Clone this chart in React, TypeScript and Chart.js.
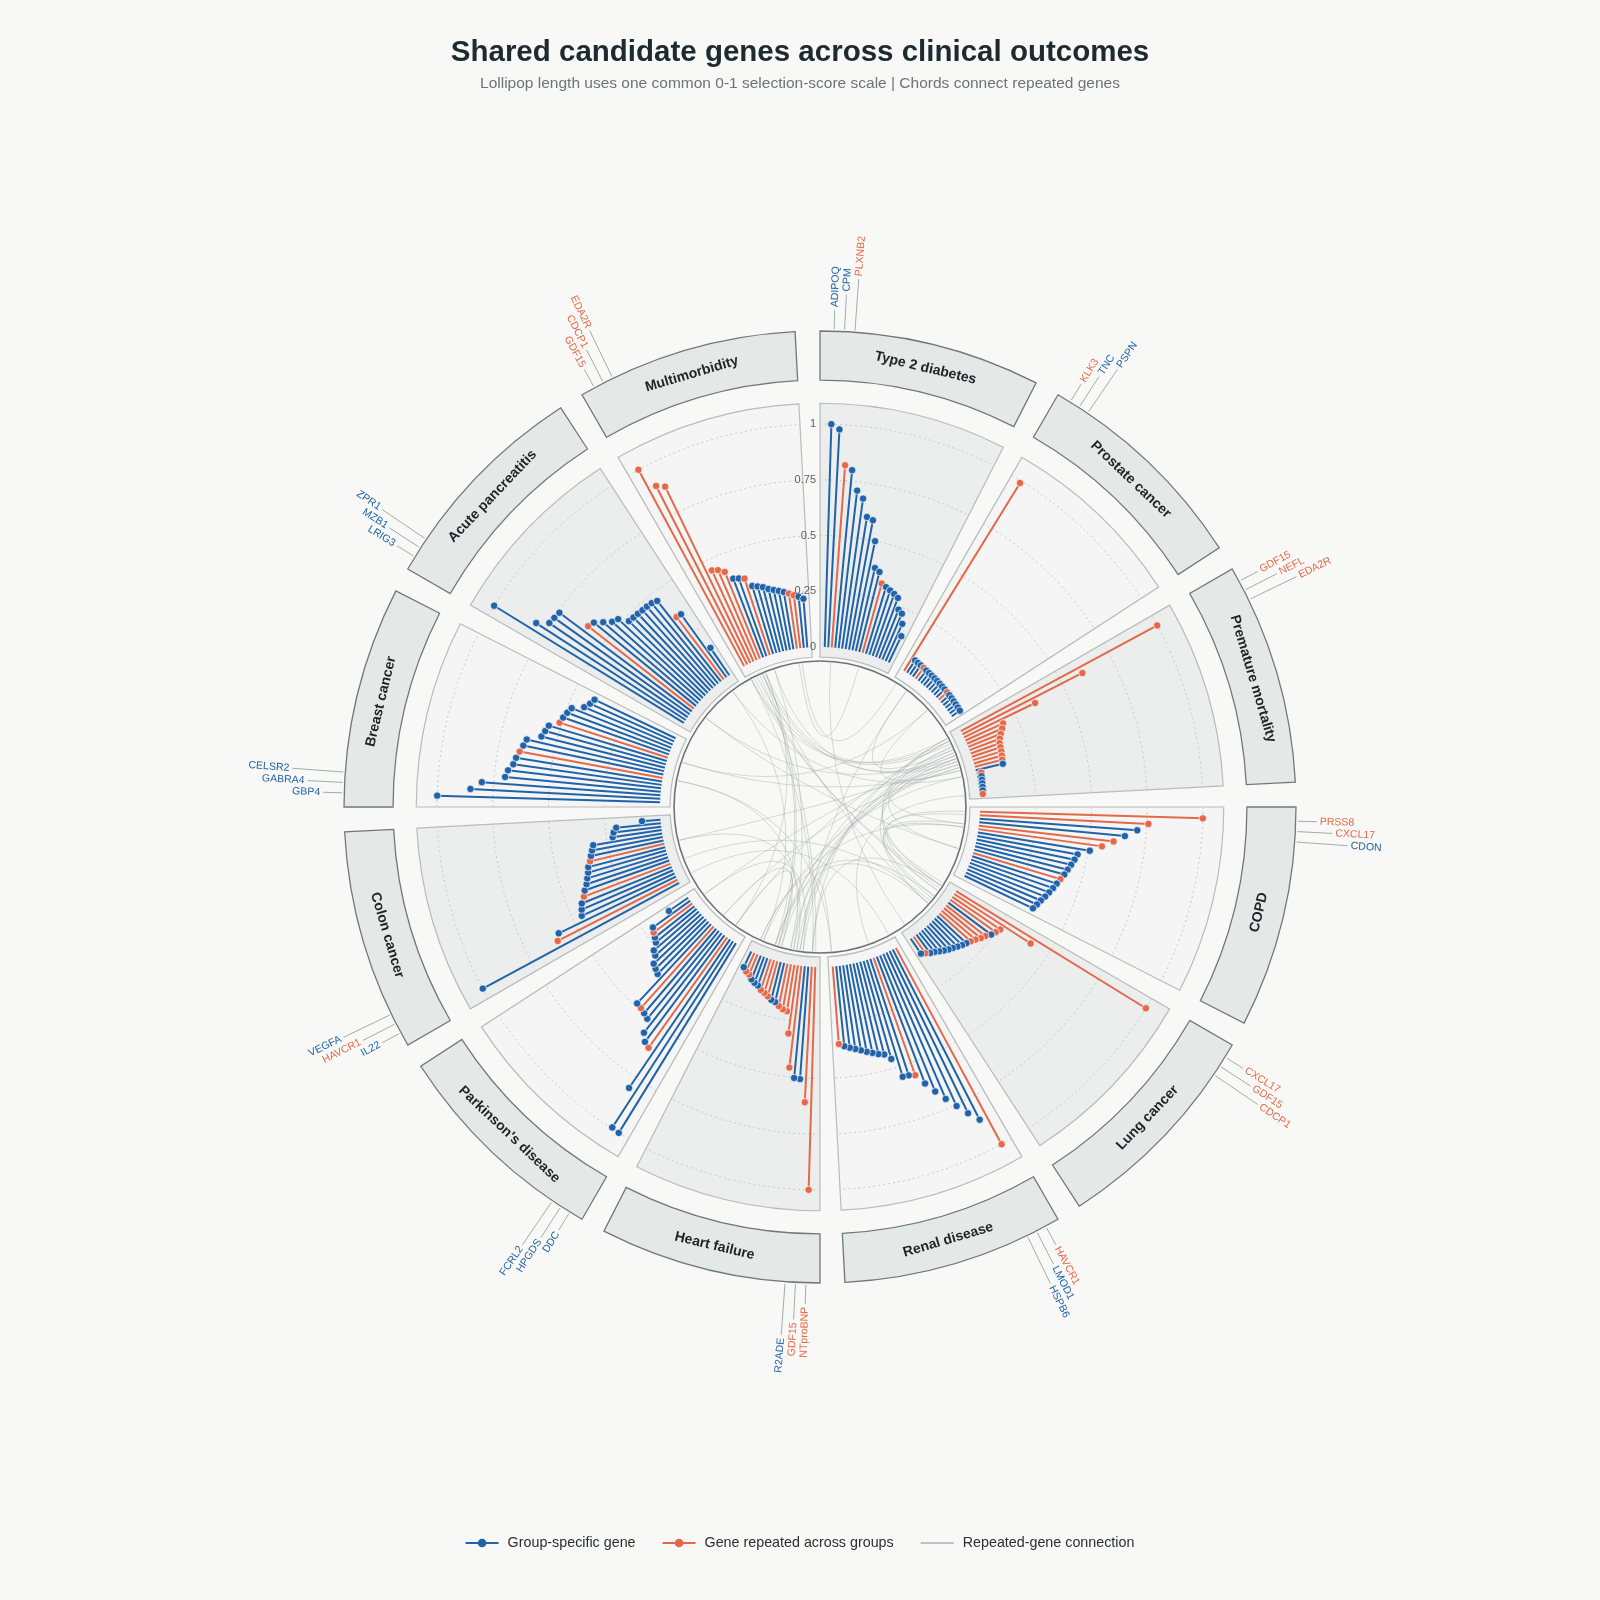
import React, { useEffect, useRef } from "react";
import { Chart, registerables } from "chart.js";

Chart.register(...registerables);

// ---------------- DATA ----------------
const TITLE = "Shared candidate genes across clinical outcomes";
const SUBTITLE = "Lollipop length uses one common 0-1 selection-score scale | Chords connect repeated genes";

const GROUPS = [
  "Type 2 diabetes",
  "Prostate cancer",
  "Premature mortality",
  "COPD",
  "Lung cancer",
  "Renal disease",
  "Heart failure",
  "Parkinson's disease",
  "Colon cancer",
  "Breast cancer",
  "Acute pancreatitis",
  "Multimorbidity",
];

const T2D_VALUES = [1.0, 0.978, 0.819, 0.8, 0.711, 0.679, 0.6, 0.59, 0.5, 0.382, 0.37, 0.322, 0.312, 0.303, 0.294, 0.283, 0.235, 0.224, 0.183, 0.131];
const T2D_GENES = ["ADIPOQ", "CPM", "PLXNB2", "", "", "", "", "", "", "", "", "LEP", "", "", "", "", "", "", "", ""];

const PROSTATE_VALUES = [0.99, 0.066, 0.064, 0.062, 0.06, 0.058, 0.057, 0.056, 0.055, 0.054, 0.053, 0.052, 0.051, 0.05, 0.049, 0.048, 0.047, 0.046, 0.045, 0.044];
const PROSTATE_GENES = ["KLK3", "TNC", "PSPN", "", "TNFRSF10B", "", "", "", "", "", "", "", "", "IGFBP4", "", "", "", "", "", ""];

const MORTALITY_VALUES = [1.0, 0.604, 0.354, 0.185, 0.172, 0.157, 0.145, 0.137, 0.135, 0.133, 0.13, 0.127, 0.125, 0.022, 0.02, 0.019, 0.018, 0.017, 0.016, 0.015];
const MORTALITY_GENES = ["GDF15", "NEFL", "EDA2R", "WFDC2", "TNFRSF10B", "ADM", "CHI3L1", "TIMP1", "PLAUR", "LTBP2", "SPON1", "IGFBP4", "", "FGF21", "", "", "", "", "", "REN"];

const COPD_VALUES = [1.0, 0.757, 0.709, 0.656, 0.608, 0.559, 0.508, 0.457, 0.448, 0.438, 0.428, 0.419, 0.408, 0.398, 0.389, 0.379, 0.369, 0.358, 0.349, 0.34];
const COPD_GENES = ["PRSS8", "CXCL17", "CDON", "", "WFDC2", "MMP12", "", "", "", "", "", "", "CHI3L1", "", "", "", "", "", "", ""];

const LUNG_VALUES = [1.0, 0.408, 0.26, 0.25, 0.24, 0.223, 0.213, 0.199, 0.188, 0.179, 0.171, 0.161, 0.151, 0.143, 0.133, 0.122, 0.111, 0.103, 0.091, 0.081];
const LUNG_GENES = ["CXCL17", "GDF15", "CDCP1", "WFDC2", "", "MMP12", "PRSS8", "CEACAM5", "TIMP1", "", "", "", "", "", "", "", "", "", "PLXNB2", ""];

const RENAL_VALUES = [1.0, 0.857, 0.808, 0.757, 0.708, 0.659, 0.609, 0.559, 0.55, 0.548, 0.457, 0.429, 0.421, 0.41, 0.4, 0.389, 0.379, 0.37, 0.361, 0.349];
const RENAL_GENES = ["HAVCR1", "LMOD1", "HSPB6", "", "", "", "", "REN", "", "", "", "", "", "", "", "", "", "", "", "CST3"];

const HF_VALUES = [1.0, 0.608, 0.506, 0.503, 0.459, 0.308, 0.21, 0.205, 0.194, 0.18, 0.174, 0.163, 0.152, 0.145, 0.13, 0.124, 0.114, 0.098, 0.091, 0.078];
const HF_GENES = ["NTproBNP", "GDF15", "R2ADE", "", "ADM", "TNFRSF10B", "LTBP2", "CST3", "PLAUR", "", "", "SPON1", "NEFL", "TIMP1", "", "", "", "FGF21", "MMP12", ""];

const PARKINSON_VALUES = [1.0, 0.995, 0.806, 0.608, 0.596, 0.566, 0.508, 0.498, 0.49, 0.486, 0.327, 0.317, 0.307, 0.277, 0.267, 0.237, 0.226, 0.217, 0.206, 0.105];
const PARKINSON_GENES = ["DDC", "HPGDS", "FCRL2", "NEFL", "", "", "", "", "SPON1", "", "", "", "", "", "", "", "", "ADM", "", ""];

const COLON_VALUES = [1.0, 0.603, 0.584, 0.457, 0.446, 0.435, 0.415, 0.402, 0.385, 0.374, 0.363, 0.356, 0.342, 0.333, 0.323, 0.314, 0.222, 0.215, 0.201, 0.083];
const COLON_GENES = ["IL22", "HAVCR1", "VEGFA", "", "", "", "CEACAM5", "", "", "", "", "", "LTBP2", "", "", "", "", "", "", ""];

const BREAST_VALUES = [1.0, 0.852, 0.803, 0.701, 0.691, 0.671, 0.663, 0.652, 0.641, 0.632, 0.571, 0.561, 0.552, 0.51, 0.502, 0.492, 0.481, 0.431, 0.413, 0.402];
const BREAST_GENES = ["GBP4", "GABRA4", "CELSR2", "", "", "", "", "CST3", "", "", "", "", "", "IGFBP4", "", "", "", "", "", ""];

const PANCREATITIS_VALUES = [1.0, 0.799, 0.75, 0.745, 0.74, 0.601, 0.591, 0.56, 0.531, 0.519, 0.478, 0.475, 0.473, 0.471, 0.47, 0.468, 0.46, 0.35, 0.348, 0.149];
const PANCREATITIS_GENES = ["LRIG3", "MZB1", "ZPR1", "", "", "CHI3L1", "", "", "", "", "", "", "", "", "", "", "", "FGF21", "", ""];

const MULTI_VALUES = [1.0, 0.899, 0.878, 0.449, 0.439, 0.42, 0.378, 0.37, 0.361, 0.319, 0.31, 0.301, 0.287, 0.278, 0.269, 0.26, 0.25, 0.239, 0.23, 0.219];
const MULTI_GENES = ["GDF15", "CDCP1", "EDA2R", "NTproBNP", "TIMP1", "NEFL", "", "", "PLAUR", "", "", "", "", "", "", "", "LEP", "KLK3", "", ""];

const VALUES = [T2D_VALUES, PROSTATE_VALUES, MORTALITY_VALUES, COPD_VALUES, LUNG_VALUES, RENAL_VALUES, HF_VALUES, PARKINSON_VALUES, COLON_VALUES, BREAST_VALUES, PANCREATITIS_VALUES, MULTI_VALUES];
const GENES = [T2D_GENES, PROSTATE_GENES, MORTALITY_GENES, COPD_GENES, LUNG_GENES, RENAL_GENES, HF_GENES, PARKINSON_GENES, COLON_GENES, BREAST_GENES, PANCREATITIS_GENES, MULTI_GENES];

const RADIAL_TICKS = [0, 0.25, 0.5, 0.75, 1];
const LEGEND_LABELS = ["Group-specific gene", "Gene repeated across groups", "Repeated-gene connection"];
const LABELLED_PER_GROUP = 3;

// ---------------- STYLE / LAYOUT ----------------
const BLUE = "#2163a9";
const ORANGE = "#e4694a";
const CHORD = "rgba(160,167,168,0.4)";
const BG = "#f8f8f6";
const FONT = "'Liberation Sans', Arial, Helvetica, sans-serif";

const SLOTS_PER_GROUP = 24;
const LEAD_SLOTS = 1;
const START_ANGLE = 0.45;
const SECTOR_SPAN = 27;
const R_MIN = -0.71749;
const R_MAX = 2.86996;
// radii in value units
const INNER_V = -0.063;
const PANEL_IN_V = -0.045;
const PANEL_OUT_V = 1.093;
const BOX_IN_V = 1.197;
const BOX_OUT_V = 1.417;
const LABEL_V = 1.525;
const LABEL_STEP_V = 0.072;

const NG = GROUPS.length;
const TOTAL = NG * SLOTS_PER_GROUP;
const SLOT_DEG = 360 / TOTAL;
const GROUP_DEG = 360 / NG;

const geneGroups: Record<string, Set<number>> = {};
GENES.forEach((arr, g) => arr.forEach((n) => {
  if (!n) return;
  (geneGroups[n] = geneGroups[n] || new Set()).add(g);
}));
const isRepeated = (g: number, i: number) => {
  const n = GENES[g][i];
  return !!n && geneGroups[n].size > 1;
};
const slotOf = (g: number, i: number) => g * SLOTS_PER_GROUP + LEAD_SLOTS + i;
const degOfSlot = (s: number) => s * SLOT_DEG + START_ANGLE;
const toRad = (deg: number) => ((deg - 90) * Math.PI) / 180;

const LABELS: string[] = new Array(TOTAL).fill("");
const DATA: (number | null)[] = new Array(TOTAL).fill(null);
const POINT_COLORS: string[] = new Array(TOTAL).fill(BLUE);
const POINT_RADII: number[] = new Array(TOTAL).fill(0);
VALUES.forEach((vals, g) => vals.forEach((v, i) => {
  const s = slotOf(g, i);
  DATA[s] = v;
  POINT_COLORS[s] = isRepeated(g, i) ? ORANGE : BLUE;
  POINT_RADII[s] = 3.7;
  LABELS[s] = GENES[g][i] || `${GROUPS[g]} #${i + 1}`;
}));

// chord pairs: every pair of groups sharing a repeated gene
const CHORDS: [number, number][] = [];
Object.keys(geneGroups).forEach((name) => {
  const slots: number[] = [];
  GENES.forEach((arr, g) => arr.forEach((n, i) => { if (n === name) slots.push(slotOf(g, i)); }));
  for (let a = 0; a < slots.length; a++)
    for (let b = a + 1; b < slots.length; b++) CHORDS.push([slots[a], slots[b]]);
});

const ringPlugin = {
  id: "ringPlugin",
  beforeDraw(chart: any) {
    const ctx: CanvasRenderingContext2D = chart.ctx;
    const s = chart.scales.r;
    const cx = s.xCenter, cy = s.yCenter;
    const R = (v: number) => s.getDistanceFromCenterForValue(v);
    ctx.save();
    ctx.fillStyle = BG;
    ctx.fillRect(0, 0, chart.width, chart.height);

    const sector = (r0: number, r1: number, a0: number, a1: number) => {
      ctx.beginPath();
      ctx.arc(cx, cy, r1, a0, a1);
      ctx.arc(cx, cy, r0, a1, a0, true);
      ctx.closePath();
    };

    for (let g = 0; g < NG; g++) {
      const d0 = g * GROUP_DEG, d1 = d0 + SECTOR_SPAN;
      const a0 = toRad(d0), a1 = toRad(d1);
      // panel
      sector(R(PANEL_IN_V), R(PANEL_OUT_V), a0, a1);
      ctx.fillStyle = g % 2 === 0 ? "#eceeed" : "#f4f5f4";
      ctx.fill();
      ctx.strokeStyle = "#b7bcbc";
      ctx.lineWidth = 1.2;
      ctx.stroke();
      // dotted grid
      ctx.save();
      ctx.setLineDash([2, 3]);
      ctx.strokeStyle = "#c6cbcb";
      ctx.lineWidth = 1;
      RADIAL_TICKS.filter((t) => t > 0).forEach((t) => {
        ctx.beginPath();
        ctx.arc(cx, cy, R(t), a0, a1);
        ctx.stroke();
      });
      ctx.restore();
      // label box
      sector(R(BOX_IN_V), R(BOX_OUT_V), a0, a1);
      ctx.fillStyle = "#e4e8e7";
      ctx.fill();
      ctx.strokeStyle = "#6f797a";
      ctx.lineWidth = 1.3;
      ctx.stroke();
      // group title
      const dm = (d0 + d1) / 2;
      const am = toRad(dm);
      const rm = (R(BOX_IN_V) + R(BOX_OUT_V)) / 2;
      ctx.save();
      ctx.translate(cx + rm * Math.cos(am), cy + rm * Math.sin(am));
      const rot = dm > 90 && dm < 270 ? dm - 180 : dm;
      ctx.rotate((rot * Math.PI) / 180);
      ctx.fillStyle = "#1c2427";
      ctx.font = `bold 14px ${FONT}`;
      ctx.textAlign = "center";
      ctx.textBaseline = "middle";
      ctx.fillText(GROUPS[g], 0, 0);
      ctx.restore();
      // gene labels
      for (let i = 0; i < LABELLED_PER_GROUP; i++) {
        const dg = degOfSlot(slotOf(g, i));
        const ag = toRad(dg);
        const rl = R(LABEL_V + LABEL_STEP_V * i);
        const r0 = R(BOX_OUT_V) + 2;
        ctx.beginPath();
        ctx.moveTo(cx + r0 * Math.cos(ag), cy + r0 * Math.sin(ag));
        ctx.lineTo(cx + (rl - 3) * Math.cos(ag), cy + (rl - 3) * Math.sin(ag));
        ctx.strokeStyle = "#9aa1a2";
        ctx.lineWidth = 0.9;
        ctx.stroke();
        ctx.save();
        ctx.translate(cx + rl * Math.cos(ag), cy + rl * Math.sin(ag));
        const right = dg < 180;
        ctx.rotate((((right ? dg - 90 : dg - 270)) * Math.PI) / 180);
        ctx.textAlign = right ? "left" : "right";
        ctx.textBaseline = "middle";
        ctx.font = `10.5px ${FONT}`;
        ctx.fillStyle = isRepeated(g, i) ? ORANGE : BLUE;
        ctx.fillText(GENES[g][i], 0, 0);
        ctx.restore();
      }
    }

    // inner circle
    const ri = R(INNER_V);
    ctx.beginPath();
    ctx.arc(cx, cy, ri, 0, Math.PI * 2);
    ctx.strokeStyle = "#6c7476";
    ctx.lineWidth = 1.6;
    ctx.stroke();

    // chords
    const rc = ri - 1.5;
    ctx.strokeStyle = CHORD;
    ctx.lineWidth = 1;
    CHORDS.forEach(([sa, sb]) => {
      const a = toRad(degOfSlot(sa)), b = toRad(degOfSlot(sb));
      ctx.beginPath();
      ctx.moveTo(cx + rc * Math.cos(a), cy + rc * Math.sin(a));
      ctx.quadraticCurveTo(cx, cy, cx + rc * Math.cos(b), cy + rc * Math.sin(b));
      ctx.stroke();
    });
    ctx.restore();
  },
  beforeDatasetsDraw(chart: any) {
    const ctx: CanvasRenderingContext2D = chart.ctx;
    const s = chart.scales.r;
    ctx.save();
    ctx.lineWidth = 2;
    DATA.forEach((v, idx) => {
      if (v === null) return;
      const p0 = s.getPointPositionForValue(idx, 0);
      const p1 = s.getPointPositionForValue(idx, v);
      ctx.beginPath();
      ctx.moveTo(p0.x, p0.y);
      ctx.lineTo(p1.x, p1.y);
      ctx.strokeStyle = POINT_COLORS[idx];
      ctx.stroke();
    });
    ctx.restore();
  },
  afterDraw(chart: any) {
    const ctx: CanvasRenderingContext2D = chart.ctx;
    const s = chart.scales.r;
    const cx = s.xCenter, cy = s.yCenter;
    ctx.save();
    // radial tick labels
    ctx.font = `11px ${FONT}`;
    ctx.fillStyle = "#5a6163";
    ctx.textAlign = "right";
    ctx.textBaseline = "middle";
    RADIAL_TICKS.forEach((t) => {
      ctx.fillText(String(t), cx - 4, cy - s.getDistanceFromCenterForValue(t));
    });
    // title
    const midX = cx - 20;
    ctx.textAlign = "center";
    ctx.fillStyle = "#1d2a2f";
    ctx.font = `bold 29.5px ${FONT}`;
    ctx.fillText(TITLE, midX, 46);
    ctx.fillStyle = "#6b7477";
    ctx.font = `15.5px ${FONT}`;
    ctx.fillText(SUBTITLE, midX, 77);
    // legend
    ctx.font = `14.3px ${FONT}`;
    const lineW = 33, gapT = 9, gapI = 27;
    const widths = LEGEND_LABELS.map((l) => ctx.measureText(l).width);
    const total = widths.reduce((a, w) => a + lineW + gapT + w, 0) + gapI * (LEGEND_LABELS.length - 1);
    let x = midX - total / 2;
    const ly = 1536;
    const cols = [BLUE, ORANGE, "#a9b0b1"];
    LEGEND_LABELS.forEach((l, k) => {
      ctx.beginPath();
      ctx.moveTo(x, ly);
      ctx.lineTo(x + lineW, ly);
      ctx.strokeStyle = cols[k];
      ctx.lineWidth = k === 2 ? 1.5 : 2;
      ctx.stroke();
      if (k < 2) {
        ctx.beginPath();
        ctx.arc(x + lineW / 2, ly, 4.3, 0, Math.PI * 2);
        ctx.fillStyle = cols[k];
        ctx.fill();
      }
      ctx.fillStyle = "#2a2f31";
      ctx.textAlign = "left";
      ctx.fillText(l, x + lineW + gapT, ly + 0.5);
      x += lineW + gapT + widths[k] + gapI;
    });
    ctx.restore();
  },
};

export default function App() {
  const ref = useRef<HTMLCanvasElement>(null);
  useEffect(() => {
    const chart = new Chart(ref.current as HTMLCanvasElement, {
      type: "radar",
      data: {
        labels: LABELS,
        datasets: [
          {
            label: "Selection score",
            data: DATA as any,
            pointBackgroundColor: POINT_COLORS,
            pointBorderColor: "rgba(255,255,255,0.85)",
            pointBorderWidth: 0.8,
            pointRadius: POINT_RADII,
            borderWidth: 0,
            borderColor: "transparent",
            backgroundColor: "transparent",
            fill: false,
          } as any,
        ],
      },
      options: {
        responsive: false,
        animation: false,
        devicePixelRatio: 1,
        events: [],
        layout: { padding: 0 },
        plugins: { legend: { display: false }, tooltip: { enabled: false }, title: { display: false } },
        scales: {
          r: {
            min: R_MIN,
            max: R_MAX,
            startAngle: START_ANGLE,
            angleLines: { display: false },
            grid: { display: false },
            pointLabels: { display: false },
            ticks: { display: false },
          },
        },
      } as any,
      plugins: [ringPlugin],
    });
    return () => chart.destroy();
  }, []);
  return (
    <div style={{ position: "absolute", left: 0, top: 0, width: 1600, height: 1600, overflow: "hidden", background: BG }}>
      <canvas ref={ref} width={1600} height={1600} style={{ position: "absolute", left: 20, top: 7, width: 1600, height: 1600 }} />
    </div>
  );
}
